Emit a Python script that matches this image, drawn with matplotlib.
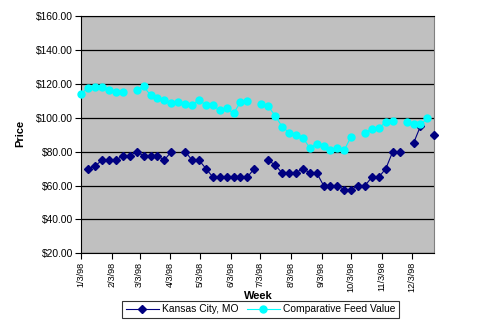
from matplotlib import pyplot as plt
import numpy as np
import datetime as dt

plt.rcParams['font.family'] = ['Liberation Sans', 'DejaVu Sans']

start = dt.date(1998, 1, 3)
weeks = [start + dt.timedelta(days=7 * i) for i in range(52)]
nan = np.nan

kansas_city = [nan, 70, 71.5, 75, 75, 75, 77.5, 77.5, 80, 77.5, 77.5, 77.5, 75, 80, nan,
               80, 75, 75, 70, 65, 65, 65, 65, 65, 65, 70, nan, 75, 72, 67.5, 67.5, 67.5,
               70, 67.5, 67.5, 60, 60, 60, 57.5, 57.5, 60, 60, 65, 65, 70, 80, 80, nan,
               85, 95, nan, 90]
feed_value = [114.2, 117.8, 118, 118, 116.6, 115.4, 115, nan, 116.2, 118.6, 113.2, 111.9,
              110.7, 108.5, 109.5, 108.3, 107.3, 110.7, 107.3, 107.3, 104.4, 105.5, 102.5,
              109.3, 109.7, nan, 108.1, 106.7, 101.2, 94.8, 91.2, 90, 88.3, 82.2, 84.7,
              83.3, 81, 82.3, 81, 88.9, nan, 91.2, 93.6, 94.2, 97.2, 97.8, nan, 97.2, 96,
              96, 99.6, nan]

tick_dates = [dt.date(1998, m, 3) for m in range(1, 13)]
tick_labels = [f'{m}/3/98' for m in range(1, 13)]
y_ticks = list(range(20, 161, 20))
y_labels = [f'${v:.2f}' for v in y_ticks]

fig = plt.figure(figsize=(4.92, 3.33), dpi=100)
ax = fig.add_axes([81.3 / 492, 1 - 253.3 / 333, 353 / 492, (253.3 - 16) / 333])
ax.set_facecolor('#c0c0c0')

ax.plot(weeks, kansas_city, color='#000080', lw=0.8, marker='D', ms=4.2,
        label='Kansas City, MO', clip_on=False, zorder=3)
ax.plot(weeks, feed_value, color='#00ffff', lw=0.8, marker='o', ms=5,
        label='Comparative Feed Value', clip_on=False, zorder=3)

ax.set_xlim(start, weeks[-1])
ax.set_ylim(20, 160)
ax.set_xticks(tick_dates)
ax.set_xticklabels(tick_labels, rotation=90, fontsize=6.6)
ax.set_yticks(y_ticks)
ax.set_yticklabels(y_labels, fontsize=7.4)
ax.tick_params(direction='out', length=4, width=0.8, color='black', pad=2)
ax.yaxis.grid(True, color='black', lw=0.9)
ax.set_axisbelow(True)
for s in ['left', 'bottom', 'top']:
    ax.spines[s].set_color('black')
ax.spines['right'].set_color('#808080')

fig.text(20 / 492, 1 - 133.5 / 333, 'Price', rotation=90, ha='center', va='center',
         fontsize=8, fontweight='bold')
fig.text(258 / 492, 1 - 296 / 333, 'Week', ha='center', va='center',
         fontsize=8, fontweight='bold')

leg = fig.legend(loc='center', bbox_to_anchor=(260.5 / 492, 1 - 309.5 / 333), ncol=2,
                 fontsize=7.4, frameon=True, fancybox=False, edgecolor='black',
                 handlelength=3.2, columnspacing=0.8, handletextpad=0.3,
                 borderpad=0.35, borderaxespad=0)
leg.get_frame().set_linewidth(0.8)

plt.savefig('out.png', dpi=100)
